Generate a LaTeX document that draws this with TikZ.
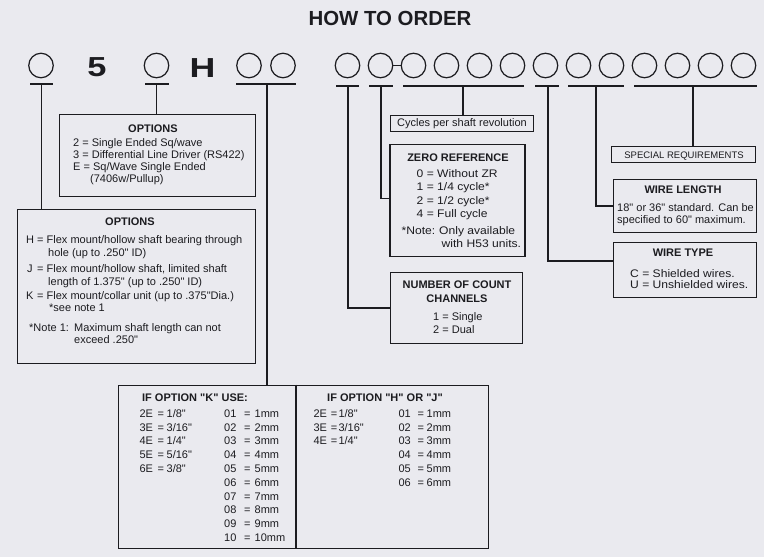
\documentclass[tikz,border=0pt]{standalone}
\usepackage{fontspec}
\setmainfont{Liberation Sans}[Ligatures=TeXOff]
\newfontfamily\widesans{Liberation Sans}[FakeStretch=1.1, Ligatures=TeXOff]
\usetikzlibrary{calc}
\definecolor{paper}{RGB}{234,234,239}
\definecolor{ink}{RGB}{28,28,32}
\begin{document}
\begin{tikzpicture}[x=1pt,y=-1pt,
  ring/.style={circle, draw=ink, line width=1.2pt, minimum size=24.5pt, inner sep=0pt},
  box/.style={rectangle, draw=ink, line width=1.6pt, inner sep=0pt},
  link/.style={draw=ink, line width=1.2pt},
  uline/.style={draw=ink, line width=1.7pt},
  txt/.style={text=ink, font=\fontsize{11}{13}\selectfont, inner sep=0pt, anchor=base west},
  txtw/.style={text=ink, font=\widesans\fontsize{11}{13}\selectfont, inner sep=0pt, anchor=base west},
  small/.style={text=ink, font=\fontsize{9.5}{11}\selectfont, inner sep=0pt, anchor=base},
  head/.style={text=ink, font=\fontsize{11}{13}\selectfont\bfseries, inner sep=0pt, anchor=base},
  big/.style={text=ink, font=\fontsize{27.5}{28}\selectfont\bfseries, inner sep=0pt, anchor=base}]

% page
\fill[paper] (0,0) rectangle (764,557);
\useasboundingbox (0,0) rectangle (764,557);

% title
\node[text=ink, font=\fontsize{20.4}{22}\selectfont\bfseries, inner sep=0pt, anchor=base] (title) at (390,25) {HOW TO ORDER};

% order code positions
\node[ring] (c1) at (41,65.5) {};
\node[big] (five) at (97,76) {\scalebox{1.25}[1]{5}};
\node[ring] (c2) at (156.5,65.5) {};
\node[big] (aitch) at (202.5,77) {\scalebox{1.3}[1]{H}};
\node[ring] (c3) at (249,65.5) {};
\node[ring] (c4) at (283,65.5) {};
\foreach \i in {5,...,17} {
  \node[ring] (c\i) at ({347.5+33*(\i-5)},65.5) {};
}
\draw[link] (c6.east) -- (c7.west);

% underlines and their drop points
\coordinate (u1a) at (30,84);   \coordinate (u1b) at (53,84);   \coordinate (m1) at (41.7,84);
\coordinate (u2a) at (145,84);  \coordinate (u2b) at (169,84);  \coordinate (m2) at (156.7,84);
\coordinate (u3a) at (236,84);  \coordinate (u3b) at (296,84);  \coordinate (m3) at (267,84);
\coordinate (u5a) at (336,86);  \coordinate (u5b) at (359,86);  \coordinate (m5) at (348,86);
\coordinate (u6a) at (369,86);  \coordinate (u6b) at (393,86);  \coordinate (m6) at (381,86);
\coordinate (u7a) at (403,86);  \coordinate (u7b) at (524,86);  \coordinate (m7) at (463,86);
\coordinate (u11a) at (535,86); \coordinate (u11b) at (559,86); \coordinate (m11) at (548,86);
\coordinate (u12a) at (568,86); \coordinate (u12b) at (624,86); \coordinate (m12) at (596,86);
\coordinate (u14a) at (634,86); \coordinate (u14b) at (757,86); \coordinate (m14) at (693,86);
\foreach \u in {1,2,3,5,6,7,11,12,14} {
  \draw[uline] (u\u a) -- (u\u b);
}

% boxes
\node[box, minimum width=196pt, minimum height=82pt]  (opt1) at (157.5,155.5) {};
\node[box, minimum width=238pt, minimum height=154pt] (opt2) at (136.5,286.5) {};
\node[box, minimum width=370pt, minimum height=163pt] (tbl)  at (303.5,467) {};
\node[box, minimum width=143pt, minimum height=16pt]  (cyc)  at (462,123.5) {};
\node[box, minimum width=135pt, minimum height=112pt] (zr)   at (457.5,200.5) {};
\node[box, minimum width=132pt, minimum height=71pt]  (ncc)  at (456.5,308) {};
\node[box, minimum width=144pt, minimum height=16pt]  (spec) at (683.5,154.5) {};
\node[box, minimum width=143pt, minimum height=53pt]  (wl)   at (685,206) {};
\node[box, minimum width=143pt, minimum height=55pt]  (wt)   at (685,270) {};
\coordinate (tdiv) at (296,0);
\draw[box] (tbl.north -| tdiv) -- (tbl.south -| tdiv);

% connectors
\draw[link] (m1) -- (m1 |- opt2.north);
\draw[link] (m2) -- (m2 |- opt1.north);
\draw[link] (m3) -- (m3 |- tbl.north);
\draw[link] (m5) |- (ncc.west);
\draw[link] (m6) |- ($(zr.north west)!0.48!(zr.south west)$);
\draw[link] (m7) -- (m7 |- cyc.north);
\draw[link] (m11) |- ($(wt.north west)!0.34!(wt.south west)$);
\draw[link] (m12) |- (wl.west);
\draw[link] (m14) -- (m14 |- spec.north);

% first OPTIONS box
\node[head] (o1h) at (153,132) {OPTIONS};
\node[txt] (o1a) at (73,146) {2 = Single Ended Sq/wave};
\node[txt] (o1b) at (73,158) {3 = Differential Line Driver (RS422)};
\node[txt] (o1c) at (73,170) {E = Sq/Wave Single Ended};
\node[txt] (o1d) at (90,182) {(7406w/Pullup)};

% second OPTIONS box
\node[head] (o2h) at (130,225) {OPTIONS};
\node[txt] (o2hk) at (26,243) {H};
\node[txt] (o2ha) at (37,243) {= Flex mount/hollow shaft bearing through};
\node[txt] (o2hb) at (48,256) {hole (up to .250" ID)};
\node[txt] (o2jk) at (27,272) {J};
\node[txt] (o2ja) at (37,272) {= Flex mount/hollow shaft, limited shaft};
\node[txt] (o2jb) at (48,285) {length of 1.375" (up to .250" ID)};
\node[txt] (o2kk) at (26,299) {K};
\node[txt] (o2ka) at (37,299) {= Flex mount/collar unit (up to .375"Dia.)};
\node[txt] (o2kb) at (49,311) {*see note 1};
\node[txt] (o2n)  at (29,331) {*Note 1:};
\node[txt] (o2na) at (74,331) {Maximum shaft length can not};
\node[txt] (o2nb) at (74,343) {exceed .250"};

% cycles
\node[txt, anchor=base] (cyct) at (462,126) {Cycles per shaft revolution};

% zero reference
\node[head] (zrh) at (458,161) {ZERO REFERENCE};
\node[txtw] (zr0) at (416.5,177.3) {0 = Without ZR};
\node[txtw] (zr1) at (416.5,190.7) {1 = 1/4 cycle*};
\node[txtw] (zr2) at (416.5,204.3) {2 = 1/2 cycle*};
\node[txtw] (zr4) at (416.5,217.7) {4 = Full cycle};
\node[txtw] (zrn) at (401.5,234) {*Note:};
\node[txtw] (zrna) at (439,234) {Only available};
\node[txtw] (zrnb) at (441.5,247.3) {with H53 units.};

% count channels
\node[head] (ncch1) at (457,288) {NUMBER OF COUNT};
\node[head] (ncch2) at (457,302) {CHANNELS};
\node[txt] (ncc1) at (433,320) {1 = Single};
\node[txt] (ncc2) at (433,333) {2 = Dual};

% special requirements
\node[small] (spect) at (684,158) {SPECIAL REQUIREMENTS};

% wire length
\node[head] (wlh) at (683,193) {WIRE LENGTH};
\node[txt] (wla) at (617,211) {18" or 36" standard. Can be};
\node[txt] (wlb) at (617,223) {specified to 60" maximum.};

% wire type
\node[head] (wth) at (683,256) {WIRE TYPE};
\node[txtw] (wtc) at (630,277) {C = Shielded wires.};
\node[txtw] (wtu) at (630,288.5) {U = Unshielded wires.};

% bore table, option K
\node[head] (kh) at (195,401) {IF OPTION "K" USE:};
\node[txt] (k2)  at (139.3,417.3) {2E}; \node[txt] (k2e) at (157.3,417.3) {=}; \node[txt] (k2v) at (166.5,417.3) {1/8"};
\node[txt] (k3)  at (139.3,431.1) {3E}; \node[txt] (k3e) at (157.3,431.1) {=}; \node[txt] (k3v) at (166.5,431.1) {3/16"};
\node[txt] (k4)  at (139.3,444.9) {4E}; \node[txt] (k4e) at (157.3,444.9) {=}; \node[txt] (k4v) at (166.5,444.9) {1/4"};
\node[txt] (k5)  at (139.3,458.7) {5E}; \node[txt] (k5e) at (157.3,458.7) {=}; \node[txt] (k5v) at (166.5,458.7) {5/16"};
\node[txt] (k6)  at (139.3,472.5) {6E}; \node[txt] (k6e) at (157.3,472.5) {=}; \node[txt] (k6v) at (166.5,472.5) {3/8"};
\foreach \n/\m [count=\i from 0] in {01/1,02/2,03/3,04/4,05/5,06/6,07/7,08/8,09/9,10/10} {
  \node[txt] (km\i)  at (224,{417.3+13.8*\i}) {\n};
  \node[txt] (kme\i) at (244,{417.3+13.8*\i}) {=};
  \node[txt] (kmv\i) at (254.5,{417.3+13.8*\i}) {\m mm};
}

% bore table, options H and J
\node[head] (hh) at (385,401) {IF OPTION "H" OR "J"};
\node[txt] (h2)  at (313.3,417.3) {2E}; \node[txt] (h2e) at (330.7,417.3) {=}; \node[txt] (h2v) at (338.3,417.3) {1/8"};
\node[txt] (h3)  at (313.3,431.1) {3E}; \node[txt] (h3e) at (330.7,431.1) {=}; \node[txt] (h3v) at (338.3,431.1) {3/16"};
\node[txt] (h4)  at (313.3,444.9) {4E}; \node[txt] (h4e) at (330.7,444.9) {=}; \node[txt] (h4v) at (338.3,444.9) {1/4"};
\foreach \n/\m [count=\i from 0] in {01/1,02/2,03/3,04/4,05/5,06/6} {
  \node[txt] (hm\i)  at (398.3,{417.3+13.8*\i}) {\n};
  \node[txt] (hme\i) at (417.5,{417.3+13.8*\i}) {=};
  \node[txt] (hmv\i) at (426.5,{417.3+13.8*\i}) {\m mm};
}
\end{tikzpicture}
\end{document}
